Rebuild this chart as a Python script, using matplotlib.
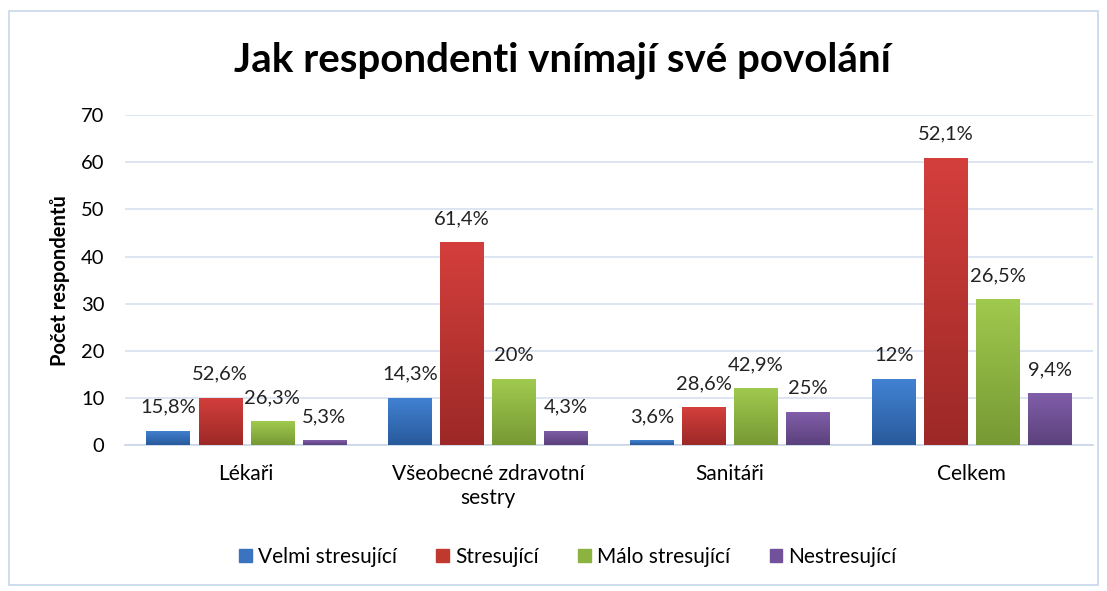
import numpy as np
import matplotlib.pyplot as plt
from matplotlib.colors import LinearSegmentedColormap
from matplotlib.patches import Rectangle

plt.rcParams['font.family'] = ['Lato', 'DejaVu Sans']

categories = ["Lékaři", "Všeobecné zdravotní\nsestry", "Sanitáři", "Celkem"]
series = ["Velmi stresující", "Stresující", "Málo stresující", "Nestresující"]
velmi = [3, 10, 1, 14]
stres = [10, 43, 8, 61]
malo = [5, 14, 12, 31]
nestres = [1, 3, 7, 11]
labels = [
    ["15,8%", "14,3%", "3,6%", "12%"],
    ["52,6%", "61,4%", "28,6%", "52,1%"],
    ["26,3%", "20%", "42,9%", "26,5%"],
    ["5,3%", "4,3%", "25%", "9,4%"],
]
values = [velmi, stres, malo, nestres]

# (top colour, bottom colour) for the gradient fill
colors = [("#4282d3", "#285a9b"), ("#d43f3c", "#9c2927"),
          ("#a0ca4e", "#779934"), ("#805ea9", "#5b417c")]
legend_colors = ["#3a74c0", "#c0392f", "#8cb33f", "#71519a"]

fig = plt.figure(figsize=(11.07, 5.91), dpi=100)
ax = fig.add_axes([0.113, 0.247, 0.874, 0.558])

x = np.arange(len(categories))
width = 0.178
step = 0.215
offsets = (np.arange(4) - 1.5) * step

grad = np.linspace(0, 1, 256).reshape(-1, 1)
for i, (vals, (top, bot)) in enumerate(zip(values, colors)):
    cmap = LinearSegmentedColormap.from_list("g%d" % i, [bot, top])
    bars = ax.bar(x + offsets[i], vals, width, color=legend_colors[i],
                  label=series[i], zorder=2)
    for b, lab in zip(bars, labels[i]):
        bx, by = b.get_x(), b.get_height()
        im = ax.imshow(grad, cmap=cmap, origin="lower", aspect="auto",
                       extent=[bx, bx + width, 0, by], zorder=3)
        im.set_clip_path(b)
        ax.text(bx + width / 2, by + 3.2, lab, ha="center", va="bottom",
                fontsize=14.5, color="#222222", zorder=4)

ax.set_xlim(-0.5, 3.5)
ax.set_ylim(0, 70)
ax.set_yticks(range(0, 71, 10))
ax.set_xticks(x)
ax.set_xticklabels(categories, fontsize=15)
ax.tick_params(axis="y", labelsize=14.5, length=0, pad=15)
ax.tick_params(axis="x", length=0, pad=14)
ax.grid(axis="y", color="#d5e0ef", lw=1.2, zorder=0)
for s in ["top", "right", "left"]:
    ax.spines[s].set_visible(False)
ax.spines["bottom"].set_color("#c9d6e8")
ax.spines["bottom"].set_linewidth(1.2)
ax.set_ylabel("Počet respondentů", fontsize=14.5, fontweight="bold", labelpad=8)

fig.text(0.508, 0.898, "Jak respondenti vnímají své povolání", ha="center",
         va="center", fontsize=29, fontweight="bold")

handles = [Rectangle((0, 0), 1, 1, color=c) for c in legend_colors]
fig.legend(handles, series, loc="center", bbox_to_anchor=(0.513, 0.058),
           ncol=4, frameon=False, fontsize=15, handlelength=0.6,
           handleheight=0.6, handletextpad=0.3, columnspacing=1.9)

fig.patches.append(Rectangle((0.008, 0.01), 0.984, 0.972, transform=fig.transFigure,
                             fill=False, edgecolor="#c6d7ec", lw=1.2))

fig.savefig("out.png", dpi=100)
